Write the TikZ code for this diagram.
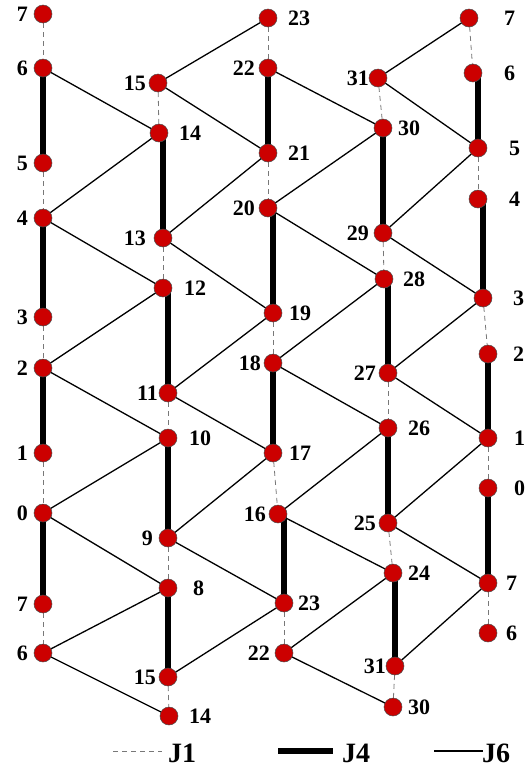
\documentclass[tikz,border=0pt]{standalone}
\usepackage{fontspec}
\setmainfont{Liberation Serif}
\pgfdeclarelayer{bg}
\pgfsetlayers{bg,main}
\definecolor{nodered}{RGB}{204,0,0}
\definecolor{dashgray}{RGB}{120,120,120}
\tikzset{
  vtx/.style={circle,fill=nodered,draw=black!70,line width=0.5pt,minimum size=18pt,inner sep=0pt},
  lbl/.style={inner sep=0pt,font=\fontsize{22}{24}\selectfont\bfseries},
  legtxt/.style={inner sep=0pt,font=\fontsize{28}{30}\selectfont\bfseries},
  jone/.style={draw=dashgray,line width=0.8pt,dash pattern=on 5pt off 4pt},
  jfour/.style={draw=black,line width=6pt},
  jsix/.style={draw=black,line width=1.3pt}
}
\newcommand\myV[6]{\node[vtx] (#1) at (#2,#3) {}; \node[lbl,anchor=#5] (#1l) at (#4,#3) {#6};}
\begin{document}
\begin{tikzpicture}[x=1pt,y=-1pt]
\useasboundingbox (0,0) rectangle (525,772);
% column a
\myV{a7}{43}{14}{28}{east}{7}
\myV{a6}{43}{68}{28}{east}{6}
\myV{a5}{43}{163}{28}{east}{5}
\myV{a4}{43}{218}{28}{east}{4}
\myV{a3}{43}{317}{28}{east}{3}
\myV{a2}{43}{368}{28}{east}{2}
\myV{a1}{43}{453}{28}{east}{1}
\myV{a0}{43}{513}{28}{east}{0}
\myV{a7b}{43}{604}{28}{east}{7}
\myV{a6b}{43}{653}{28}{east}{6}
% column b
\myV{b15}{158}{83}{146}{east}{15}
\myV{b14}{159}{133}{179}{west}{14}
\myV{b13}{163}{238}{146}{east}{13}
\myV{b12}{163}{288}{184}{west}{12}
\myV{b11}{168}{393}{158}{east}{11}
\myV{b10}{168}{438}{189}{west}{10}
\myV{b9}{168}{538}{153}{east}{9}
\myV{b8}{168}{588}{193}{west}{8}
\myV{b15b}{168}{677}{156}{east}{15}
\myV{b14b}{169}{716}{189}{west}{14}
% column c
\myV{c23}{268}{18}{288}{west}{23}
\myV{c22}{268}{68}{255}{east}{22}
\myV{c21}{268}{153}{288}{west}{21}
\myV{c20}{268}{208}{255}{east}{20}
\myV{c19}{273}{313}{289}{west}{19}
\myV{c18}{273}{363}{261}{east}{18}
\myV{c17}{273}{453}{289}{west}{17}
\myV{c16}{278}{514}{266}{east}{16}
\myV{c23b}{284}{603}{298}{west}{23}
\myV{c22b}{284}{653}{270}{east}{22}
% column d
\myV{d31}{378}{78}{369}{east}{31}
\myV{d30}{383}{128}{398}{west}{30}
\myV{d29}{383}{233}{369}{east}{29}
\myV{d28}{384}{279}{403}{west}{28}
\myV{d27}{388}{373}{376}{east}{27}
\myV{d26}{388}{428}{408}{west}{26}
\myV{d25}{388}{523}{376}{east}{25}
\myV{d24}{393}{573}{408}{west}{24}
\myV{d31b}{395}{666}{386}{east}{31}
\myV{d30b}{393}{707}{408}{west}{30}
% column e
\myV{e7}{469}{18}{504}{west}{7}
\myV{e6}{473}{73}{504}{west}{6}
\myV{e5}{478}{148}{509}{west}{5}
\myV{e4}{478}{199}{509}{west}{4}
\myV{e3}{483}{298}{513}{west}{3}
\myV{e2}{488}{354}{513}{west}{2}
\myV{e1}{488}{438}{514}{west}{1}
\myV{e0}{488}{488}{514}{west}{0}
\myV{e7b}{488}{583}{506}{west}{7}
\myV{e6b}{488}{633}{506}{west}{6}
% legend
\coordinate (l1a) at (113,751); \coordinate (l1b) at (162,751);
\coordinate (l4a) at (278,751); \coordinate (l4b) at (333,751);
\coordinate (l6a) at (434,751); \coordinate (l6b) at (483,751);
\node[legtxt,anchor=base west] (tJ1) at (168,762) {J1};
\node[legtxt,anchor=base west] (tJ4) at (342,762) {J4};
\node[legtxt,anchor=base west] (tJ6) at (482,762) {J6};
\begin{pgfonlayer}{bg}
\draw[jone] (l1a) -- (l1b);
\draw[jfour] (l4a) -- (l4b);
\draw[jsix] (l6a) -- (l6b);
\foreach \p/\q in {a7/a6,a5/a4,a3/a2,a1/a0,a7b/a6b,
  b15/b14,b13/b12,b11/b10,b9/b8,b15b/b14b,
  c23/c22,c21/c20,c19/c18,c17/c16,c23b/c22b,
  d31/d30,d29/d28,d27/d26,d25/d24,d31b/d30b,
  e7/e6,e5/e4,e3/e2,e1/e0,e7b/e6b}
  \draw[jone] (\p.center) -- (\q.center);
\foreach \p/\q in {a6/a5,a4/a3,a2/a1,a0/a7b,
  b14/b13,b12/b11,b10/b9,b8/b15b,
  c22/c21,c20/c19,c18/c17,c16/c23b,
  d30/d29,d28/d27,d26/d25,d24/d31b,
  e6/e5,e4/e3,e2/e1,e0/e7b}
  \draw[jfour] (\q.center |- \p.center) -- (\q.center);
\foreach \p/\q in {a6/b14,a4/b14,a4/b12,a2/b12,a2/b10,a0/b10,a0/b8,a6b/b8,a6b/b14b,
  b15/c23,b15/c21,b13/c21,b13/c19,b11/c19,b11/c17,b9/c17,b9/c23b,b15b/c23b,
  c22/d30,c20/d30,c20/d28,c18/d28,c18/d26,c16/d26,c16/d24,c22b/d24,c22b/d30b,
  d31/e7,d31/e5,d29/e5,d29/e3,d27/e3,d27/e1,d25/e1,d25/e7b,d31b/e7b}
  \draw[jsix] (\p.center) -- (\q.center);
\end{pgfonlayer}
\end{tikzpicture}
\end{document}
